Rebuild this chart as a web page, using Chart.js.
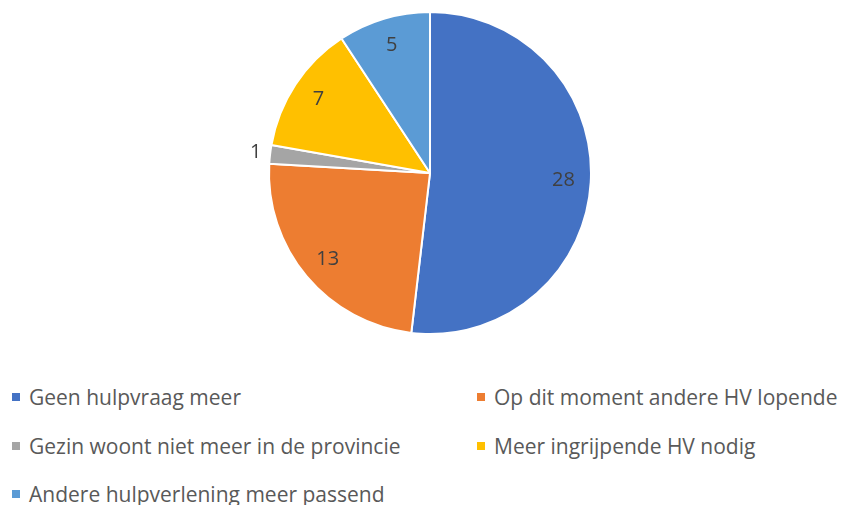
<!DOCTYPE html>
<html>
<head>
<meta charset="utf-8">
<script src="https://cdn.jsdelivr.net/npm/chart.js@4/dist/chart.umd.min.js"></script>
<style>
  body { margin: 0; background: #fff; overflow: hidden; }
  #wrap { position: relative; width: 850px; height: 505px; }
  #pie { position: absolute; left: 0; top: 0; }
  .leg { position: absolute; font-family: "Open Sans", sans-serif; font-size: 21px; color: #595959; white-space: nowrap; line-height: 26px; }
  .leg i { display: inline-block; width: 8px; height: 8px; margin-right: 9px; vertical-align: 4px; }
</style>
</head>
<body>
<div id="wrap">
  <canvas id="pie" width="850" height="346"></canvas>
  <div id="legend"></div>
</div>
<script>
const labels = ['Geen hulpvraag meer', 'Op dit moment andere HV lopende', 'Gezin woont niet meer in de provincie', 'Meer ingrijpende HV nodig', 'Andere hulpverlening meer passend'];
const values = [28, 13, 1, 7, 5];
const colors = ['#4472c4', '#ed7d31', '#a5a5a5', '#ffc000', '#5b9bd5'];

// value labels: inside the slice, outside for tiny slices
const sliceLabels = {
  id: 'sliceLabels',
  afterDatasetsDraw(chart) {
    const ctx = chart.ctx;
    const meta = chart.getDatasetMeta(0);
    ctx.save();
    ctx.font = '20px "Open Sans", sans-serif';
    ctx.fillStyle = '#404040';
    ctx.textAlign = 'center';
    ctx.textBaseline = 'middle';
    meta.data.forEach((arc, i) => {
      const p = arc.getProps(['x', 'y', 'startAngle', 'endAngle', 'outerRadius']);
      const mid = (p.startAngle + p.endAngle) / 2;
      const small = (p.endAngle - p.startAngle) < 0.2;
      const r = p.outerRadius * (small ? 1.09 : 0.83);
      ctx.fillText(values[i], p.x + Math.cos(mid) * r, p.y + Math.sin(mid) * r);
    });
    ctx.restore();
  }
};

new Chart(document.getElementById('pie'), {
  type: 'pie',
  data: {
    labels: labels,
    datasets: [{
      data: values,
      backgroundColor: colors,
      borderColor: '#fff',
      borderWidth: 2,
      hoverOffset: 0
    }]
  },
  options: {
    responsive: false,
    animation: false,
    layout: { padding: { left: 10, top: 11, bottom: 11 } },
    plugins: { legend: { display: false }, tooltip: { enabled: false } }
  },
  plugins: [sliceLabels]
});

// legend in two columns under the pie
const legPos = [[12, 384], [477, 384], [12, 433], [477, 433], [12, 481]];
const legend = document.getElementById('legend');
labels.forEach((l, i) => {
  const d = document.createElement('div');
  d.className = 'leg';
  d.style.left = legPos[i][0] + 'px';
  d.style.top = legPos[i][1] + 'px';
  d.innerHTML = '<i style="background:' + colors[i] + '"></i>' + l;
  legend.appendChild(d);
});
</script>
</body>
</html>
